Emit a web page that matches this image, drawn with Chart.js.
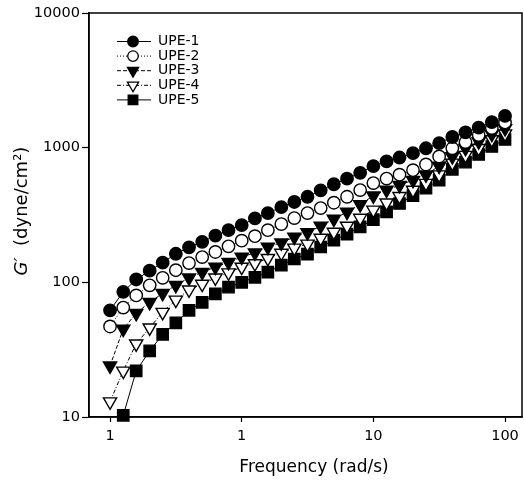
<!DOCTYPE html>
<html>
<head>
<meta charset="utf-8">
<script src="https://cdn.jsdelivr.net/npm/chart.js@4.4.0/dist/chart.umd.min.js"></script>
<style>
  html, body { margin: 0; padding: 0; background: #fff; }
  #wrap { width: 524px; height: 484px; }
</style>
</head>
<body>
<div id="wrap"><canvas id="gChart" width="524" height="484"></canvas></div>
<script>
// Frequency (rad/s), 10 points per decade
const frequency = [0.1, 0.126, 0.158, 0.2, 0.251, 0.316, 0.398, 0.501, 0.631, 0.794,
  1, 1.26, 1.58, 2, 2.51, 3.16, 3.98, 5.01, 6.31, 7.94,
  10, 12.6, 15.8, 20, 25.1, 31.6, 39.8, 50.1, 63.1, 79.4, 100];

// G' (dyne/cm2)
const upe1 = [62, 85, 105, 122, 140, 163, 182, 200, 222, 244, 266, 298, 327, 362, 395, 432, 482, 535, 588, 650, 730, 790, 845, 910, 990, 1080, 1200, 1300, 1410, 1550, 1720];
const upe2 = [47, 65, 80, 95, 108, 123, 139, 154, 168, 185, 204, 220, 244, 271, 300, 327, 356, 390, 432, 484, 546, 590, 630, 680, 750, 860, 990, 1100, 1240, 1400, 1540];
const upe3 = [24, 45, 59, 71, 83, 95, 108, 119, 130, 141, 154, 166, 183, 197, 217, 234, 262, 295, 333, 378, 440, 484, 527, 574, 630, 730, 860, 990, 1110, 1260, 1390];
const upe4 = [13, 22, 35, 46, 60, 74, 88, 97, 108, 118, 130, 138, 151, 165, 180, 193, 213, 236, 262, 300, 345, 390, 435, 485, 545, 630, 770, 880, 990, 1150, 1270];
const upe5 = [null, 10.3, 22, 31, 41, 50, 62, 71, 82, 92, 100, 109, 119, 134, 149, 162, 183, 206, 228, 258, 292, 333, 385, 440, 500, 574, 690, 780, 890, 1020, 1150];

const seriesNames = ['UPE-1', 'UPE-2', 'UPE-3', 'UPE-4', 'UPE-5'];

const xTickValues = [0.1, 1, 10, 100];
const xTickLabels = ['1', '1', '10', '100'];
const yTickValues = [10, 100, 1000, 10000];
const yTickLabels = ['10', '100', '1000', '10000'];

const FONT = "'DejaVu Sans', sans-serif";

function toPoints(values) {
    return frequency.map((f, i) => ({ x: f, y: values[i] }));
}

function makeSeries(label, values, style, filled, radius, dash, rotation) {
    return {
        label: label,
        data: toPoints(values),
        borderColor: '#000',
        borderWidth: 1,
        borderDash: dash,
        pointStyle: style,
        pointRadius: radius,
        pointRotation: rotation || 0,
        pointBackgroundColor: filled ? '#000' : '#fff',
        pointBorderColor: '#000',
        pointBorderWidth: 1.4,
        tension: 0,
        fill: false,
        clip: false
    };
}

// Legend with line + marker sample, drawn inside the plot
const legendBox = {
    id: 'legendBox',
    afterDraw(chart) {
        const ctx = chart.ctx;
        chart.data.datasets.forEach((ds, i) => {
            const y = 41.5 + i * 14.6;
            ctx.save();
            ctx.strokeStyle = '#000';
            ctx.lineWidth = 1;
            ctx.setLineDash(ds.borderDash || []);
            ctx.beginPath();
            ctx.moveTo(117, y);
            ctx.lineTo(151, y);
            ctx.stroke();
            ctx.setLineDash([]);
            ctx.fillStyle = ds.pointBackgroundColor;
            ctx.lineWidth = 1.3;
            Chart.helpers.drawPoint(ctx, {
                pointStyle: ds.pointStyle,
                radius: ds.pointRadius * 0.85,
                rotation: ds.pointRotation,
                borderWidth: 1.3
            }, 133, y);
            ctx.fillStyle = '#000';
            ctx.font = '14px ' + FONT;
            ctx.textBaseline = 'middle';
            ctx.textAlign = 'left';
            ctx.fillText(ds.label, 158, y);
            ctx.restore();
        });
    }
};

// Frame and axis titles
const frameAndTitles = {
    id: 'frameAndTitles',
    afterDraw(chart) {
        const ctx = chart.ctx;
        const a = chart.chartArea;
        ctx.save();
        ctx.strokeStyle = '#000';
        ctx.lineWidth = 1.5;
        ctx.strokeRect(a.left, a.top, a.right - a.left, a.bottom - a.top);

        ctx.fillStyle = '#000';
        ctx.textBaseline = 'middle';
        ctx.textAlign = 'center';
        ctx.font = '17px ' + FONT;
        ctx.fillText('Frequency (rad/s)', 314, 468);

        // y title: italic G' then the unit
        ctx.translate(22, 211);
        ctx.rotate(-Math.PI / 2);
        const g = 'G\u2032';
        const rest = '  (dyne/cm\u00B2)';
        ctx.font = 'italic 18px ' + FONT;
        const gw = ctx.measureText(g).width;
        ctx.font = '18px ' + FONT;
        const rw = ctx.measureText(rest).width;
        const x0 = -(gw + rw) / 2;
        ctx.textAlign = 'left';
        ctx.font = 'italic 18px ' + FONT;
        ctx.fillText(g, x0, 0);
        ctx.font = '18px ' + FONT;
        ctx.fillText(rest, x0 + gw, 0);
        ctx.restore();
    }
};

const ctx = document.getElementById('gChart').getContext('2d');
new Chart(ctx, {
    type: 'line',
    data: {
        datasets: [
            makeSeries(seriesNames[0], upe1, 'circle', true, 6.2, []),
            makeSeries(seriesNames[1], upe2, 'circle', false, 6.2, [1, 2]),
            makeSeries(seriesNames[2], upe3, 'triangle', true, 7.6, [4, 2], 180),
            makeSeries(seriesNames[3], upe4, 'triangle', false, 7.6, [4, 2, 1, 2], 180),
            makeSeries(seriesNames[4], upe5, 'rect', true, 8, [])
        ]
    },
    options: {
        responsive: false,
        animation: false,
        devicePixelRatio: 1,
        layout: { autoPadding: false, padding: { left: 0, top: 13, right: 2, bottom: 0 } },
        plugins: {
            legend: { display: false },
            tooltip: { enabled: false }
        },
        scales: {
            x: {
                type: 'logarithmic',
                min: 0.0692,
                max: 134.6,
                afterBuildTicks: (axis) => { axis.ticks = xTickValues.map(v => ({ value: v })); },
                afterFit: (axis) => {
                    axis.height = 67;
                    axis.paddingLeft = 0;
                    axis.paddingRight = 0;
                },
                grid: { drawOnChartArea: false, drawTicks: true, tickLength: 5, color: '#000', tickWidth: 1.2 },
                border: { display: true, color: '#000', width: 1.5 },
                ticks: {
                    color: '#000',
                    font: { family: FONT, size: 14.5 },
                    padding: 6,
                    maxRotation: 0,
                    autoSkip: false,
                    callback: (value, index) => xTickLabels[index]
                }
            },
            y: {
                type: 'logarithmic',
                min: 10,
                max: 10000,
                afterBuildTicks: (axis) => { axis.ticks = yTickValues.map(v => ({ value: v })); },
                afterFit: (axis) => {
                    axis.width = 89;
                    axis.paddingTop = 0;
                    axis.paddingBottom = 0;
                },
                grid: { drawOnChartArea: false, drawTicks: true, tickLength: 7, color: '#000', tickWidth: 1.2 },
                border: { display: true, color: '#000', width: 1.5 },
                ticks: {
                    color: '#000',
                    font: { family: FONT, size: 14.5 },
                    padding: 2,
                    autoSkip: false,
                    callback: (value, index) => yTickLabels[index]
                }
            }
        }
    },
    plugins: [legendBox, frameAndTitles]
});
</script>
</body>
</html>
